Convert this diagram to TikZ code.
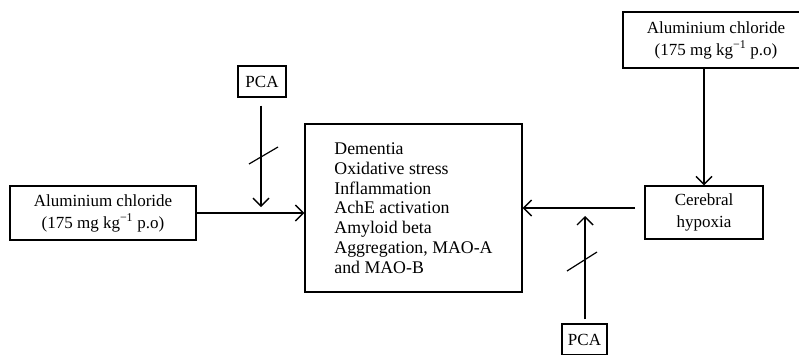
\documentclass[tikz,border=0pt]{standalone}
\usepackage{fontspec}
\setmainfont{Liberation Serif}
\usetikzlibrary{arrows.meta}
\begin{document}
\begin{tikzpicture}[x=1pt,y=-1pt,
  box/.style={draw, line width=1.2pt, inner sep=0pt, align=center,
    font=\fontsize{17}{22}\selectfont},
  arr/.style={line width=1.4pt, -{Straight Barb[length=8pt,width=16pt]}},
  slash/.style={line width=1.2pt}]
\useasboundingbox (0,0) rectangle (799,354);
\clip (0,0) rectangle (799,354);
\node[box, minimum width=186, minimum height=54] (al1) at (103,213)
  {Aluminium chloride\\(175 mg kg\textsuperscript{−1} p.o)};
\node[box, minimum width=186, minimum height=56] (al2) at (716,40)
  {Aluminium chloride\\(175 mg kg\textsuperscript{−1} p.o)};
\node[box, minimum width=48, minimum height=31] (pca1) at (262,81.5) {PCA};
\node[box, minimum width=45, minimum height=31] (pca2) at (584.5,339.5) {PCA};
\node[box, minimum width=118, minimum height=53] (cereb) at (704,212.5) {Cerebral\\hypoxia};
\node[box, minimum width=217, minimum height=168, align=left,
  font=\fontsize{17.8}{19.8}\selectfont] (main) at (413.5,208)
  {Dementia\\Oxidative stress\\Inflammation\\AchE activation\\Amyloid beta\\Aggregation, MAO-A\\and MAO-B};
\coordinate (t1) at (261,207);
\coordinate (t2) at (585,216);
\coordinate (c2) at (635,208);
\draw[arr] (al1.east) -- (al1.east -| main.west);
\draw[arr] ([yshift=-8]pca1.south -| t1) -- (t1);
\draw[slash] (249,164) -- (278,147);
\draw[arr] (cereb.north |- al2.south) -- (cereb.north);
\draw[arr] (c2) -- (c2 -| main.east);
\draw[arr] ([yshift=4]pca2.north -| t2) -- (t2);
\draw[slash] (567,271) -- (597,252);
\end{tikzpicture}
\end{document}
